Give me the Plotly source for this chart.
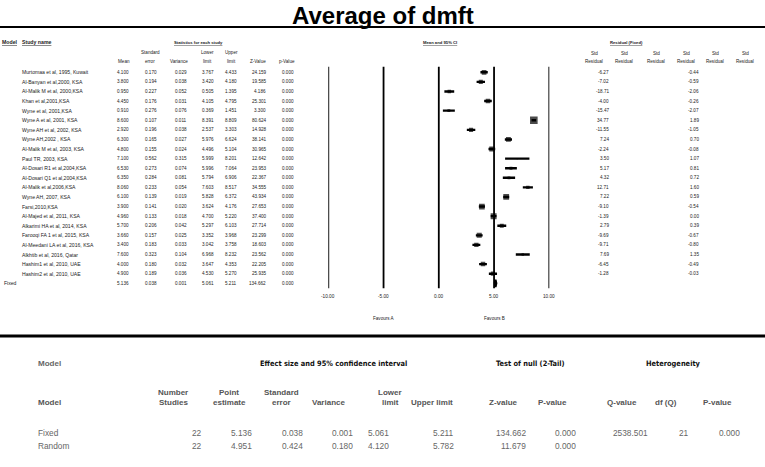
import numpy as np
import plotly.graph_objects as go

W, H = 765, 467

# ---------------- data ----------------
studies = [
    "Murtomaa et al, 1995, Kuwait", "Al-Banyan et al,2000, KSA", "Al-Malik M et al, 2000,KSA",
    "Khan et al,2001,KSA", "Wyne et al, 2001,KSA", "Wyne A et al, 2001, KSA",
    "Wyne AH et al, 2002, KSA", "Wyne AH,2002 , KSA", "Al-Malik M et al, 2003, KSA",
    "Paul TR, 2003, KSA", "Al-Dosari R1 et al,2004,KSA", "Al-Dosari Q1 et al,2004,KSA",
    "Al-Malik et al,2006,KSA", "Wyne AH, 2007, KSA", "Farsi,2010,KSA",
    "Al-Majed et al, 2011, KSA", "Alkarimi HA et al, 2014, KSA", "Farooqi FA 1 et al, 2015, KSA",
    "Al-Meedani LA et al, 2016, KSA", "Alkhtib et al, 2016, Qatar", "Hashim1 et al, 2010, UAE",
    "Hashim2 et al, 2010, UAE",
]
mean = [4.100, 3.800, 0.950, 4.450, 0.910, 8.600, 2.920, 6.300, 4.800, 7.100, 6.530,
        6.350, 8.060, 6.100, 3.900, 4.960, 5.700, 3.660, 3.400, 7.600, 4.000, 4.900]
std_err = [0.170, 0.194, 0.227, 0.176, 0.276, 0.107, 0.196, 0.165, 0.155, 0.562, 0.273,
           0.284, 0.233, 0.139, 0.141, 0.133, 0.206, 0.157, 0.183, 0.323, 0.180, 0.189]
variance = [0.029, 0.038, 0.052, 0.031, 0.076, 0.011, 0.038, 0.027, 0.024, 0.315, 0.074,
            0.081, 0.054, 0.019, 0.020, 0.018, 0.042, 0.025, 0.033, 0.104, 0.032, 0.036]
lower = [3.767, 3.420, 0.505, 4.105, 0.369, 8.391, 2.537, 5.976, 4.496, 5.999, 5.996,
         5.794, 7.603, 5.828, 3.624, 4.700, 5.297, 3.352, 3.042, 6.968, 3.647, 4.530]
upper = [4.433, 4.180, 1.395, 4.795, 1.451, 8.809, 3.303, 6.624, 5.104, 8.201, 7.064,
         6.906, 8.517, 6.372, 4.176, 5.220, 6.103, 3.968, 3.758, 8.232, 4.353, 5.270]
z_value = [24.159, 19.585, 4.186, 25.301, 3.300, 80.624, 14.928, 38.141, 30.965, 12.642, 23.953,
           22.367, 34.555, 43.934, 27.653, 37.400, 27.714, 23.299, 18.603, 23.562, 22.205, 25.935]
p_value = [0.000] * 22
resid_fixed = [-6.27, -7.02, -18.71, -4.00, -15.47, 34.77, -11.55, 7.24, -2.24, 3.50, 5.17,
               4.32, 12.71, 7.22, -9.10, -1.39, 2.79, -9.69, -9.71, 7.69, -6.45, -1.28]
resid_fixed_b = [-0.44, -0.59, -2.06, -0.26, -2.07, 1.89, -1.05, 0.70, -0.08, 1.07, 0.81,
                 0.72, 1.60, 0.59, -0.54, 0.00, 0.39, -0.67, -0.80, 1.35, -0.49, -0.03]

fixed_label = "Fixed"
fixed_mean, fixed_se, fixed_var = 5.136, 0.038, 0.001
fixed_lower, fixed_upper, fixed_z, fixed_p = 5.061, 5.211, 134.662, 0.000

axis_ticks = [-10, -5, 0, 5, 10]

models = ["Fixed", "Random"]
n_studies = [22, 22]
point_est = [5.136, 4.951]
sum_se = [0.038, 0.424]
sum_var = [0.001, 0.180]
sum_lower = [5.061, 4.120]
sum_upper = [5.211, 5.782]
sum_z = [134.662, 11.679]
sum_p = [0.000, 0.000]
q_value, df_q, het_p = 2538.501, 21, 0.000

# ---------------- layout helpers ----------------
def px(x):
    return x / W

def py(y):
    return 1 - y / H

ROW0, ROWH = 72.3, 9.59
TOP, BOT = 66.7, 288.3
FONT = "Liberation Sans, Arial, sans-serif"
NARROW = "Liberation Sans Narrow, Arial Narrow, DejaVu Sans Condensed, sans-serif"

ann = []

def T(x, y, text, size=4.6, anchor="right", yref="y", color="#222", family=FONT, yanchor="middle"):
    ann.append(dict(x=px(x), xref="paper", y=(y if yref == "y" else py(y)), yref=yref,
                    text=text, showarrow=False, xanchor=anchor, yanchor=yanchor,
                    font=dict(size=size, color=color, family=family),
                    borderpad=0, borderwidth=0))

fig = go.Figure()

# forest plot CI lines + weight-sized squares
n = len(studies)
rows = list(range(n))
msize = 0.8 / np.sqrt(np.array(variance))
fig.add_trace(go.Scatter(
    x=mean, y=rows, mode="markers",
    marker=dict(symbol="square", size=msize, color="black", line=dict(width=0)),
    error_x=dict(type="data", symmetric=False,
                 array=list(np.array(upper) - np.array(mean)),
                 arrayminus=list(np.array(mean) - np.array(lower)),
                 thickness=2.4, width=0, color="black"),
    hoverinfo="skip", showlegend=False))

# fixed-effect diamond
fr = n
fig.add_trace(go.Scatter(
    x=[fixed_lower, fixed_mean, fixed_upper, fixed_mean, fixed_lower],
    y=[fr, fr - 0.38, fr, fr + 0.38, fr],
    mode="lines", fill="toself", fillcolor="black",
    line=dict(color="black", width=2), hoverinfo="skip", showlegend=False))

# ---------------- top table text ----------------
T(2, 42, "<u><b>Model</b></u>", size=5.2, anchor="left", yref="paper")
T(22, 42, "<u><b>Study name</b></u>", size=5.2, anchor="left", yref="paper")
T(198, 42, "<u><b>Statistics for each study</b></u>", size=4.2, anchor="center", yref="paper")
T(440, 42, "<u><b>Mean and 95% CI</b></u>", size=4.2, anchor="center", yref="paper")
T(626, 42, "<u><b>Residual (Fixed)</b></u>", size=4.2, anchor="center", yref="paper")

hdr2 = [(124, None, "Mean"), (150, "Standard", "error"), (179, None, "Variance"),
        (208, "Lower", "limit"), (231, "Upper", "limit"), (258, None, "Z-Value"),
        (287, None, "p-Value")]
for xc, l1, l2 in hdr2:
    if l1:
        T(xc, 52.7, l1, anchor="center", yref="paper")
    T(xc, 61.7, l2, anchor="center", yref="paper")
for xc in [594, 624, 656, 686, 715, 745]:
    T(xc, 53.3, "Std", anchor="center", yref="paper")
    T(xc, 61.2, "Residual", anchor="center", yref="paper")

col_right = [129, 157, 187, 214, 237, 266, 294]
for i in rows:
    T(22, i, studies[i], size=5.1, anchor="left")
    vals = [mean[i], std_err[i], variance[i], lower[i], upper[i], z_value[i], p_value[i]]
    for xr, v in zip(col_right, vals):
        T(xr, i, f"{v:.3f}")
    T(609, i, f"{resid_fixed[i]:.2f}")
    T(699, i, f"{resid_fixed_b[i]:.2f}")
T(4, fr, fixed_label, size=5.1, anchor="left")
for xr, v in zip(col_right, [fixed_mean, fixed_se, fixed_var, fixed_lower, fixed_upper, fixed_z, fixed_p]):
    T(xr, fr, f"{v:.3f}")

# favours labels
for xv, lab in [(-5, "Favours A"), (5, "Favours B")]:
    ann.append(dict(x=xv, xref="x", y=py(318), yref="paper", text=lab, showarrow=False,
                    xanchor="center", yanchor="middle",
                    font=dict(size=4.6, color="#222", family=FONT)))

# tick labels of the forest axis
for t in axis_ticks:
    ann.append(dict(x=t, xref="x", y=py(296), yref="paper", text=f"{t:.2f}", showarrow=False,
                    xanchor="center", yanchor="middle",
                    font=dict(size=4.7, color="#222", family=FONT)))

# title
T(383, 15.5, "<b>Average of dmft</b>", size=24, anchor="center", yref="paper", color="black")

# ---------------- bottom summary table ----------------
T(38, 363, "<b>Model</b>", size=8, anchor="left", yref="paper", color="#666")
T(333, 363, "<b>Effect size and 95% confidence interval</b>", size=7.4, anchor="center",
  yref="paper", color="#111", family=NARROW)
T(530, 363, "<b>Test of null (2-Tail)</b>", size=7.4, anchor="center", yref="paper",
  color="#111", family=NARROW)
T(673, 363, "<b>Heterogeneity</b>", size=7.4, anchor="center", yref="paper",
  color="#111", family=NARROW)

HC = "#555"
T(38, 402, "<b>Model</b>", size=8, anchor="left", yref="paper", color=HC)
hdr_b = [(173, "Number", "Studies"), (229, "Point", "estimate"), (281, "Standard", "error"),
         (328, None, "Variance"), (390, "Lower", "limit"), (432, None, "Upper limit"),
         (503, None, "Z-value"), (552, None, "P-value"), (622, None, "Q-value"),
         (666, None, "df (Q)"), (717, None, "P-value")]
for xc, l1, l2 in hdr_b:
    if l1:
        T(xc, 392.7, f"<b>{l1}</b>", size=8, anchor="center", yref="paper", color=HC)
    T(xc, 402, f"<b>{l2}</b>", size=8, anchor="center", yref="paper", color=HC)

VC = "#666"
for k, yy in enumerate([433, 446]):
    T(38, yy, models[k], size=8.3, anchor="left", yref="paper", color=VC)
    T(202, yy, f"{n_studies[k]}", size=8.3, yref="paper", color=VC)
    for xr, v in zip([252, 303, 353, 389, 454, 526, 576],
                     [point_est[k], sum_se[k], sum_var[k], sum_lower[k], sum_upper[k], sum_z[k], sum_p[k]]):
        T(xr, yy, f"{v:.3f}", size=8.3, yref="paper", color=VC)
T(648, 433, f"{q_value:.3f}", size=8.3, yref="paper", color=VC)
T(689, 433, f"{df_q}", size=8.3, yref="paper", color=VC)
T(740, 433, f"{het_p:.3f}", size=8.3, yref="paper", color=VC)

shapes = [
    dict(type="line", xref="paper", yref="paper", x0=0, x1=1, y0=py(27), y1=py(27),
         line=dict(color="black", width=2)),
    dict(type="line", xref="paper", yref="paper", x0=0, x1=1, y0=py(336), y1=py(336),
         line=dict(color="black", width=3)),
]
# vertical reference lines of the forest plot at each axis tick
for t in axis_ticks:
    shapes.append(dict(type="line", xref="x", yref="paper", x0=t, x1=t,
                       y0=py(BOT), y1=py(TOP), layer="below",
                       line=dict(color="black", width=1.8)))

fig.update_layout(
    width=W, height=H, margin=dict(l=0, r=0, t=0, b=0),
    paper_bgcolor="white", plot_bgcolor="white",
    annotations=ann, shapes=shapes, showlegend=False,
    xaxis=dict(domain=[px(328.3), px(549.3)], range=[-10, 10],
               showgrid=False, zeroline=False, showline=False, showticklabels=False,
               ticks="", fixedrange=True),
    yaxis=dict(domain=[py(BOT), py(TOP)],
               range=[(BOT - ROW0) / ROWH, (TOP - ROW0) / ROWH],
               visible=False, fixedrange=True),
)

fig.write_html("out.html", config={"displayModeBar": False},
               post_script="document.body.style.margin='0px';")
